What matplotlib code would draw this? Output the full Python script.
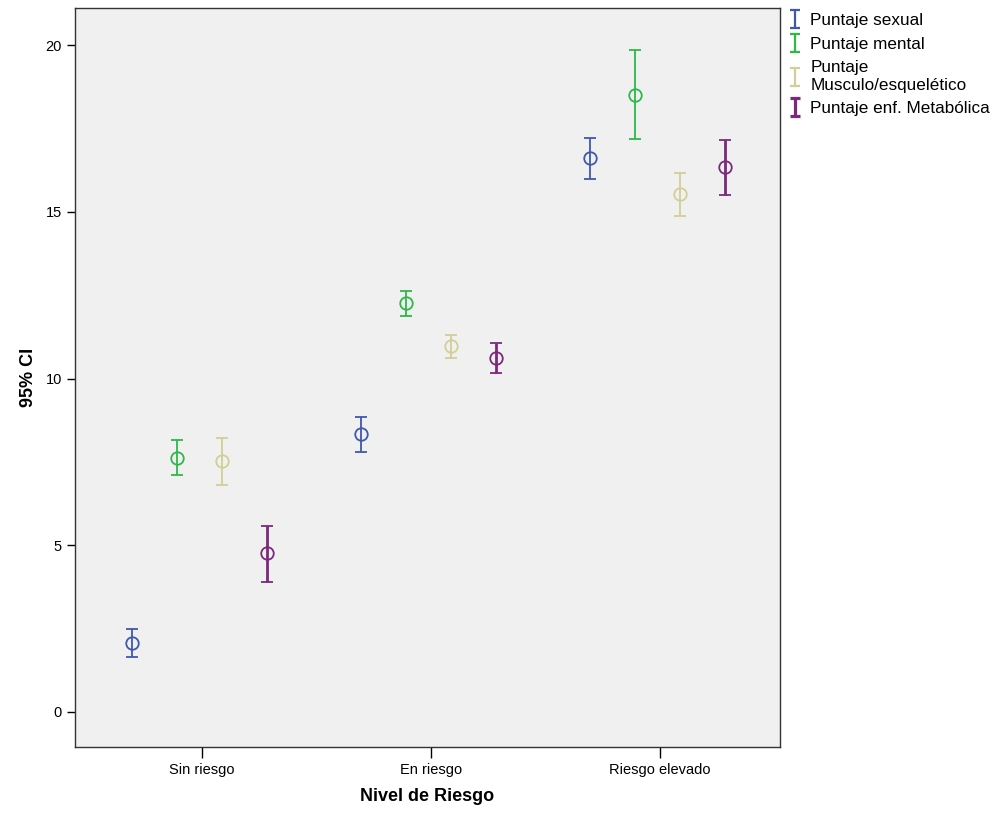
import numpy as np
import matplotlib
matplotlib.use("Agg")
import matplotlib.pyplot as plt
from matplotlib.path import Path
from matplotlib.lines import Line2D

plt.rcParams['font.family'] = ['Liberation Sans', 'DejaVu Sans']

# data (mean, lower, upper of 95% CI)
groups = ['Sin riesgo', 'En riesgo', 'Riesgo elevado']
series = ['Puntaje sexual', 'Puntaje mental', 'Puntaje\nMusculo/esquelético', 'Puntaje enf. Metabólica']
colors = ['#3E58AC', '#2EB848', '#D3CE97', '#7C287D']
widths = [1.3, 1.3, 1.3, 2.0]

sexual_mean = [2.07, 8.34, 16.60]
sexual_low = [1.65, 7.81, 15.99]
sexual_high = [2.49, 8.84, 17.21]

mental_mean = [7.62, 12.25, 18.50]
mental_low = [7.11, 11.87, 17.17]
mental_high = [8.16, 12.62, 19.85]

musc_mean = [7.53, 10.97, 15.52]
musc_low = [6.81, 10.62, 14.87]
musc_high = [8.22, 11.30, 16.15]

metab_mean = [4.77, 10.63, 16.33]
metab_low = [3.90, 10.17, 15.50]
metab_high = [5.58, 11.08, 17.15]

means = [sexual_mean, mental_mean, musc_mean, metab_mean]
lows = [sexual_low, mental_low, musc_low, metab_low]
highs = [sexual_high, mental_high, musc_high, metab_high]
offsets = [-0.306, -0.109, 0.087, 0.284]

fig = plt.figure(figsize=(10.03, 8.19), dpi=100)
ax = fig.add_axes([0.0748, 0.0879, 0.7029, 0.9023])
ax.set_facecolor('#F0F0F0')

x = np.arange(len(groups))
for i in range(4):
    m = np.array(means[i])
    lo = m - np.array(lows[i])
    hi = np.array(highs[i]) - m
    ax.errorbar(x + offsets[i], m, yerr=[lo, hi], fmt='o', mfc='none', mec=colors[i],
                ms=9, mew=1.3, ecolor=colors[i], elinewidth=widths[i],
                capsize=4.5, capthick=widths[i] + 0.6)

ax.set_xlim(-0.555, 2.524)
ax.set_ylim(-1.05, 21.11)
ax.set_xticks(x)
ax.set_xticklabels(groups, fontsize=10.5)
ax.set_yticks([0, 5, 10, 15, 20])
ax.tick_params(axis='y', labelsize=10.5, length=6, width=1)
ax.tick_params(axis='x', length=8, width=1)
for s in ax.spines.values():
    s.set_linewidth(1.0)
    s.set_color('#333333')

ax.set_xlabel('Nivel de Riesgo', fontsize=13, fontweight='bold', labelpad=8)
ax.set_ylabel('95% CI', fontsize=13, fontweight='bold', labelpad=6)

# I-shaped legend symbol
ibar = Path([(-0.5, 1), (0.5, 1), (0, 1), (0, -1), (-0.5, -1), (0.5, -1)],
            [Path.MOVETO, Path.LINETO, Path.MOVETO, Path.LINETO, Path.MOVETO, Path.LINETO])
handles = [Line2D([], [], linestyle='none', marker=ibar, markersize=13,
                  mec=colors[i], mew=widths[i] + 0.3) for i in range(4)]
fig.legend(handles, series, loc='upper left', bbox_to_anchor=(0.779, 0.992),
           frameon=False, fontsize=12.3, handlelength=0.8, handletextpad=0.5,
           labelspacing=0.5, borderaxespad=0)

fig.savefig('out.png', dpi=100)
